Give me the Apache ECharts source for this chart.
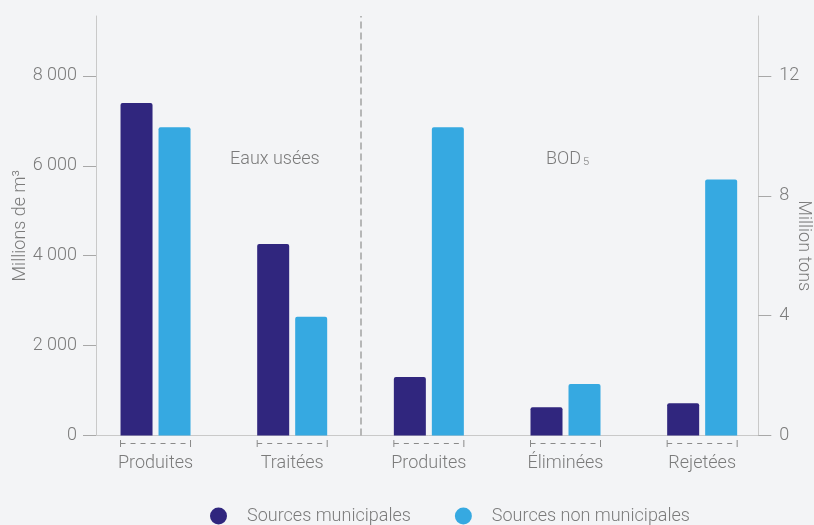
<!DOCTYPE html>
<html>
<head>
<meta charset="utf-8">
<script src="https://cdn.jsdelivr.net/npm/echarts@6/dist/echarts.min.js"></script>
<style>
html,body{margin:0;padding:0;background:#f3f4f6;}
#chart{width:814px;height:525px;}
</style>
</head>
<body>
<div id="chart"></div>
<script>
// ---- data ----
const categories = ['Produites', 'Traitées', 'Produites', 'Éliminées', 'Rejetées'];
const waterMunicipal = [7400, 4260];          // Millions de m³ (Eaux usées)
const waterNonMunicipal = [6860, 2640];
const bodMunicipal = [1.95, 0.94, 1.08];      // Million tons (BOD5)
const bodNonMunicipal = [10.29, 1.72, 8.54];
const leftTicks = [0, 2000, 4000, 6000, 8000];
const rightTicks = [0, 4, 8, 12];
const seriesNames = ['Sources municipales', 'Sources non municipales'];
const groupLabels = ['Eaux usées', 'BOD'];

// ---- style ----
const C_DARK = '#30267e';
const C_LIGHT = '#36a9e1';
const TXT = '#7b7b7b';
const FONT = 'Roboto';
const BAR_W = 32, BAR_GAP = 6;

const fmt = v => String(v).replace(/\B(?=(\d{3})+(?!\d))/g, ' ');
const pad = (arr, before, after) => Array(before).fill('-').concat(arr, Array(after).fill('-'));
const dividerAt = waterMunicipal.length;   // boundary between the two groups

const chart = echarts.init(document.getElementById('chart'), null, {renderer: 'canvas'});

const axisLabelStyle = {color: TXT, fontSize: 18, fontWeight: 300, fontFamily: FONT};

const option = {
  backgroundColor: '#f3f4f6',
  textStyle: {fontFamily: FONT},
  title: [
    {text: groupLabels[0], left: 230, top: 150, padding: 0,
     textStyle: {fontSize: 18, fontWeight: 300, color: TXT, fontFamily: FONT}},
    {text: '{a|' + groupLabels[1] + '}{b|5}', left: 546, top: 150, padding: 0,
     textStyle: {rich: {
       a: {fontSize: 18, fontWeight: 300, color: TXT, fontFamily: FONT},
       b: {fontSize: 11, fontWeight: 300, color: TXT, fontFamily: FONT, padding: [7, 0, 0, 2]}
     }}}
  ],
  legend: {
    data: seriesNames,
    left: 210, top: 507, padding: 0,
    icon: 'circle',
    itemWidth: 17, itemHeight: 17,
    itemGap: 44,
    textStyle: {color: TXT, fontSize: 18, fontWeight: 300, fontFamily: FONT, padding: [0, 0, 0, 15]}
  },
  grid: {left: 87.2, right: 43.5, top: 16, bottom: 89.5, containLabel: false, outerBoundsMode: 'none'},
  xAxis: [
    {
      type: 'category', data: categories, boundaryGap: true,
      axisLine: {show: true, lineStyle: {color: '#c9c9c9', width: 1}},
      axisTick: {show: false},
      axisLabel: Object.assign({margin: 19}, axisLabelStyle),
      splitLine: {show: false}
    },
    {type: 'category', data: categories, show: false},
    {type: 'value', min: 0, max: categories.length, show: false}
  ],
  yAxis: [
    {
      type: 'value', position: 'left', offset: -8.8, min: 0, max: 9333.33,
      name: 'Millions de m³', nameLocation: 'middle', nameGap: 67, nameMoveOverlap: false,
      nameTextStyle: {color: TXT, fontSize: 18, fontWeight: 300, fontFamily: FONT},
      axisLine: {show: true, lineStyle: {color: '#c9c9c9'}},
      axisTick: {show: true, length: 13, customValues: leftTicks, lineStyle: {color: '#a8a8a8'}},
      axisLabel: Object.assign({margin: 19, customValues: leftTicks, formatter: v => fmt(v)}, axisLabelStyle),
      splitLine: {show: false}
    },
    {
      type: 'value', position: 'right', offset: -12.2, min: 0, max: 14,
      name: 'Million tons', nameLocation: 'middle', nameGap: 36, nameRotate: -90, nameMoveOverlap: false,
      nameTextStyle: {color: TXT, fontSize: 18, fontWeight: 300, fontFamily: FONT, padding: [0, 0, 0, 40]},
      axisLine: {show: true, lineStyle: {color: '#c9c9c9'}},
      axisTick: {show: true, length: 13, customValues: rightTicks, lineStyle: {color: '#a8a8a8'}},
      axisLabel: Object.assign({margin: 21, customValues: rightTicks}, axisLabelStyle),
      splitLine: {show: false}
    }
  ],
  series: [
    {name: seriesNames[0], type: 'bar', xAxisIndex: 0, yAxisIndex: 0,
     data: pad(waterMunicipal, 0, 3), barWidth: BAR_W, barGap: (BAR_GAP / BAR_W * 100) + '%',
     itemStyle: {color: C_DARK, borderRadius: [2, 2, 0, 0]}},
    {name: seriesNames[1], type: 'bar', xAxisIndex: 0, yAxisIndex: 0,
     data: pad(waterNonMunicipal, 0, 3), barWidth: BAR_W, barGap: (BAR_GAP / BAR_W * 100) + '%',
     itemStyle: {color: C_LIGHT, borderRadius: [2, 2, 0, 0]}},
    {name: seriesNames[0], type: 'bar', xAxisIndex: 1, yAxisIndex: 1,
     data: pad(bodMunicipal, 2, 0), barWidth: BAR_W, barGap: (BAR_GAP / BAR_W * 100) + '%',
     itemStyle: {color: C_DARK, borderRadius: [2, 2, 0, 0]}},
    {name: seriesNames[1], type: 'bar', xAxisIndex: 1, yAxisIndex: 1,
     data: pad(bodNonMunicipal, 2, 0), barWidth: BAR_W, barGap: (BAR_GAP / BAR_W * 100) + '%',
     itemStyle: {color: C_LIGHT, borderRadius: [2, 2, 0, 0]}},
    {
      name: 'divider', type: 'line', xAxisIndex: 2, yAxisIndex: 0, data: [], silent: true,
      markLine: {
        symbol: 'none', silent: true, label: {show: false}, animation: false,
        lineStyle: {color: '#a3a3a3', width: 1.5, type: [7, 4]},
        emphasis: {disabled: true},
        data: [{xAxis: dividerAt}]
      }
    },
    {
      name: 'brackets', type: 'custom', xAxisIndex: 0, yAxisIndex: 0, silent: true, clip: false,
      data: categories.map((c, i) => [i, 0]),
      encode: {x: 0, y: 1},
      renderItem: function (params, api) {
        const p = api.coord([api.value(0), 0]);
        const half = BAR_W + BAR_GAP / 2;
        const y = p[1] + 8;
        const st = {stroke: '#8a8a8a', lineWidth: 1};
        return {
          type: 'group',
          children: [
            {type: 'line', shape: {x1: p[0] - half, y1: y, x2: p[0] + half, y2: y},
             style: Object.assign({lineDash: [5, 5]}, st)},
            {type: 'line', shape: {x1: p[0] - half, y1: y - 3.5, x2: p[0] - half, y2: y + 3.5}, style: st},
            {type: 'line', shape: {x1: p[0] + half, y1: y - 3.5, x2: p[0] + half, y2: y + 3.5}, style: st}
          ]
        };
      }
    }
  ]
};
chart.setOption(option);
</script>
</body>
</html>
